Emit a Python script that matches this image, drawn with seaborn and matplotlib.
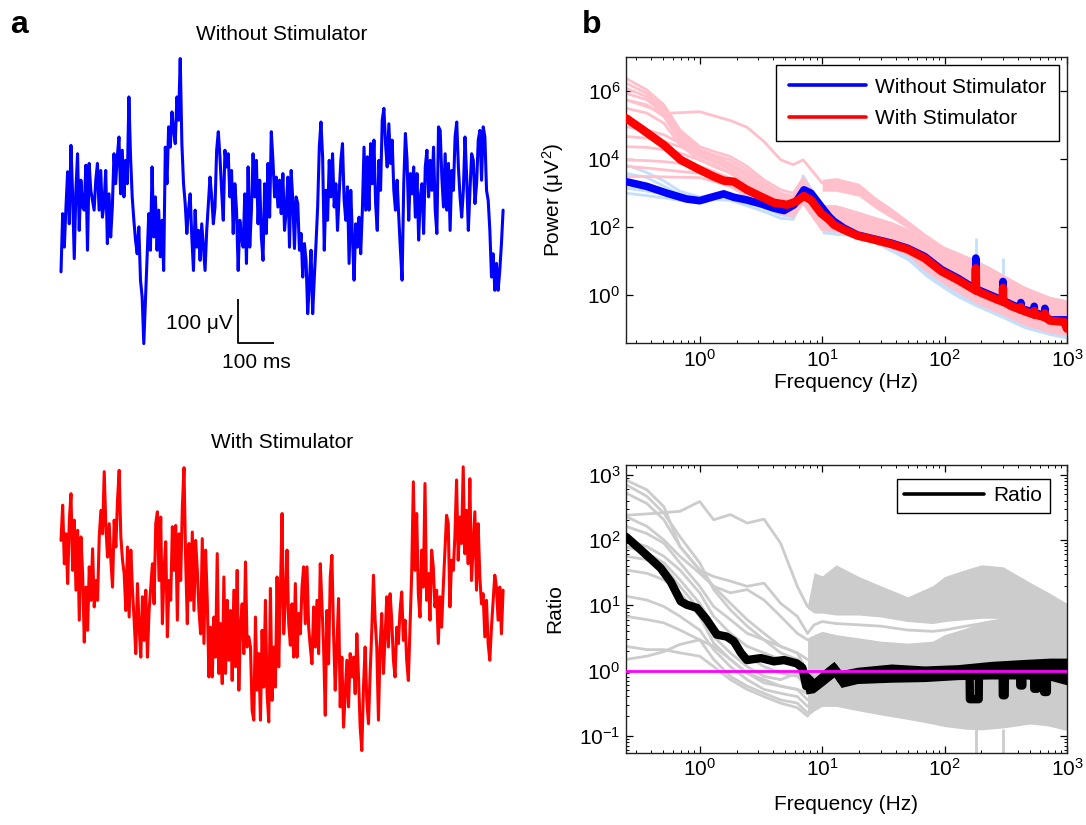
import numpy as np
import matplotlib
matplotlib.use("Agg")
import matplotlib.pyplot as plt
import seaborn as sns
from matplotlib.lines import Line2D
from matplotlib.ticker import FixedLocator, LogLocator, NullLocator, NullFormatter

# ---------------- panel a : raw traces (microvolts) ----------------
trace_without_uv = [
    -163, -31, -107, -16, 64, -54, 124, 14, -133, 22,
    105, -69, 45, -16, -23, 79, -114, 83, 22, -1,
    -23, 45, 83, -23, 67, -39, -8, 67, -99, 14,
    -84, -16, 105, 37, 98, 143, 14, 113, 7, 90,
    37, 234, 98, 7, -46, -91, -122, -61, -182, -220,
    -326, -228, -129, -31, -114, 75, -84, 7, -114, -23,
    -129, -46, -160, 120, 37, 166, 120, 200, 158, 128,
    234, 181, 321, 128, 37, -8, -76, -23, 14, -84,
    -160, -23, -107, -69, -137, -54, -107, -160, -69, -8,
    52, 7, -54, -16, 113, 155, 98, 22, -46, 113,
    75, 105, 7, 67, -76, 37, -23, -160, -46, -84,
    -107, 14, -144, 75, -107, -23, 105, 7, 90, -54,
    45, -84, -137, 37, -76, 83, -39, 155, 90, 7,
    52, -16, 45, -31, 60, -69,
    -23, 52, -107, 67, -1, -110, 7, -8, -114, -76,
    -175, -99, -137, -258, -190, -114, -258, -175, -99, -16,
    120, 177, 98, -114, 22, -46, 90, 7, 105, -16,
    37, -69, 14, 90, 128, -1, -46, 30, -144, 22,
    -84, -182, -54, -107, -39, -122, -23, 120, -23, 98,
    -23, 128, 37, 136, -8, -69, 90, 22, 181, 208,
    128, 75, 173, 83, 136, 22, -23, 45, -39, -114,
    -182, 37, 151, 90, -46, 60, 14, 75, -39, 60,
    -91, 7, 37, -76, 75, 113, 7, 90, 22, 120,
    -23, -76, 166, 158, 52, -16, 105, -23, 83, -69,
    67, 22, 143, 177, 75, 7, -39, 22, 143, 52,
    -69, 22, 105, 90, -8, 37, 136, 158, 45, 166,
    143, 22, -1, -69, -175, -122, -205, -144, -205, -160,
    -99, -23,
]
trace_with_uv = [
    158, 238, 105, 173, 60, 204, 264, 90, 204, 45,
    181, -23, 166, 83, -73, 52, -46, 98, 22, 139,
    7, 67, 22, 166, 226, 173, 314, 189, 120, 196,
    113, 52, 204, 143, 249, 317, 166, 113, 83, -1,
    143, -16, 136, 45, -23, -99, 60, -39, -107, 30,
    -69, 45, -107, -1, 52, 105, 14, 196, 223, 67,
    211, -31, 90, 155, -61, 67, 22, 189, 90, 192,
    -23, 173, 67, 234, 323, 113, -31, 151, 22, 177,
    -1, 158, 90, -1, -54, 162, -76, 136, 22, -152,
    -39, -152, -16, -107, 128, -144, -31, -167, 75, -144,
    22, -114, -1, -160, 45, -129, 90, -182, -39, 14,
    -99, 109, -84, -61, -84, -228, -250, -16, -182, -99,
    -250, -46, -175, 22, -190, -254, 49, -205, -84, -175,
    75, -129, 37, 219, -54,
    22, 136, -31, -80, 14, -107, 60, -107, -8, -54,
    52, 98, -31, 98, -39, -84, -122, 7, -84, 22,
    -99, 105, 14, -84, -239, -1, -122, 75, 124, -54,
    -182, -84, 26, -220, -107, -266, -190, -114, -220, -99,
    -152, -107, -190, -54, -152, -266, -319, -175, -84, -205,
    -258, -144, -46, 79, -23, -84, -250, -84, -8, -144,
    -61, 30, -84, 37, -23, -114, -152, -39, -76, -1,
    41, -69, -23, -114, -160, -39, 83, 291, 90, 219,
    37, -16, 136, 52, 287, 22, 83, -23, 136, 98,
    7, 45, -76, 30, -39, 52, 136, 215, 196, 7,
    113, 90, 166, 295, 113, 211, 151, 325, 128, 226,
    105, 298, 67, 143, 223, 45, 196, 75, 14, 37,
    -61, 22, -76, -114, -39, 22, 79, 52, -23, 52,
    -54, 45,
]
TRACE_DURATION_MS = 1229
SCALE_MS = 100
SCALE_UV = 100

# ---------------- panel b (top): power spectra, log10(uV^2) ----------------
freq_without = [0.25, 0.37, 0.54, 0.78, 1.0, 1.3, 1.57, 1.9, 2.43, 3.16,
                4.04, 4.88, 5.9, 7.1, 8.1, 9.8, 11.4, 12.5, 15.1, 19.4,
                26.7, 36.8, 49.8, 68.6, 94.5, 128, 166, 179, 180, 181,
                201, 272, 299, 300, 301, 354, 419, 420, 421, 453,
                539, 540, 541, 659, 660, 661, 725, 1000]
power_without_log10 = [3.33, 3.19, 2.99, 2.82, 2.77, 2.89, 2.97, 2.87, 2.79, 2.68,
                       2.55, 2.48, 2.65, 3.09, 2.99, 2.60, 2.30, 2.16, 1.96, 1.76,
                       1.64, 1.52, 1.37, 1.13, 0.74, 0.49, 0.24, 0.17, 1.08, 0.17,
                       0.10, -0.10, -0.17, 0.39, -0.17, -0.29, -0.40, -0.23, -0.40, -0.44,
                       -0.52, -0.34, -0.52, -0.62, -0.40, -0.62, -0.74, -0.74]
freq_with = [0.25, 0.33, 0.51, 0.70, 1.0, 1.3, 1.57, 1.9, 2.43, 3.16,
             4.04, 5.17, 6.1, 7.1, 8.1, 9.8, 11.4, 12.5, 15.1, 19.4,
             26.7, 36.8, 49.8, 68.6, 94.5, 128, 166, 179, 180, 181,
             201, 272, 299, 300, 301, 354, 419, 420, 421, 453,
             539, 540, 541, 659, 660, 661, 725, 950, 1000]
power_with_log10 = [5.20, 4.90, 4.41, 3.97, 3.68, 3.48, 3.36, 3.33, 3.09, 2.89,
                    2.71, 2.65, 2.74, 2.91, 2.79, 2.40, 2.21, 2.06, 1.91, 1.74,
                    1.62, 1.49, 1.34, 1.08, 0.69, 0.44, 0.20, 0.13, 0.78, 0.13,
                    0.05, -0.15, -0.20, 0.20, -0.20, -0.34, -0.44, -0.36, -0.44, -0.49,
                    -0.58, -0.48, -0.58, -0.66, -0.55, -0.66, -0.76, -0.80, -1.00]

freq_trials_low = [0.25, 0.37, 0.51, 0.69, 1.0, 1.3, 1.78, 2.44, 3.35, 4.6, 5.8, 7.0, 10]
with_trials_log10 = [
    [6.37, 6.03, 5.59, 4.85, 4.36, 4.22, 4.07, 3.78, 3.38, 3.09, 2.99, 3.43, 2.60],
    [6.23, 5.93, 5.49, 4.76, 4.27, 4.12, 3.97, 3.68, 3.29, 2.99, 2.89, 3.33, 2.50],
    [6.08, 5.83, 5.39, 4.66, 4.22, 4.07, 3.87, 3.58, 3.19, 2.94, 2.80, 3.24, 2.40],
    [5.93, 5.74, 5.34, 4.61, 4.12, 3.97, 3.78, 3.48, 3.09, 2.85, 2.75, 3.14, 2.31],
    [5.74, 5.59, 5.25, 4.51, 4.07, 3.92, 3.68, 3.38, 3.04, 2.80, 2.70, 3.04, 2.21],
    [5.49, 5.35, 5.05, 4.41, 3.97, 3.83, 3.58, 3.29, 2.94, 2.70, 2.60, 2.94, 2.16],
    [5.74, 5.54, 5.34, 5.36, 5.39, 5.27, 5.13, 4.93, 4.51, 3.97, 3.83, 3.97, 3.29],
    [4.95, 4.85, 4.71, 4.46, 4.27, 4.07, 3.83, 3.48, 3.19, 2.89, 2.80, 3.19, 2.31],
    [4.66, 4.61, 4.51, 4.36, 4.17, 3.97, 3.68, 3.34, 3.04, 2.75, 2.65, 3.09, 2.26],
    [4.36, 4.34, 4.27, 4.17, 3.97, 3.78, 3.58, 3.24, 2.94, 2.70, 2.60, 2.99, 2.21],
    [3.97, 3.95, 3.92, 3.87, 3.78, 3.63, 3.43, 3.14, 2.85, 2.60, 2.50, 2.89, 2.11],
    [3.78, 3.73, 3.68, 3.63, 3.58, 3.48, 3.29, 3.04, 2.75, 2.50, 2.40, 2.80, 2.01],
    [3.48, 3.48, 3.47, 3.46, 3.45, 3.34, 3.19, 2.89, 2.65, 2.40, 2.31, 2.70, 1.91],
]
without_trials_log10 = [
    [3.82, 3.60, 3.35, 3.05, 2.88, 2.95, 2.92, 2.80, 2.65, 2.50, 2.45, 3.50, 2.60],
    [3.58, 3.45, 3.20, 2.95, 2.80, 2.90, 2.88, 2.75, 2.60, 2.45, 2.40, 3.10, 2.45],
    [3.14, 3.05, 2.98, 2.85, 2.75, 2.85, 2.82, 2.70, 2.55, 2.35, 2.30, 2.90, 2.35],
    [2.99, 2.92, 2.85, 2.78, 2.70, 2.80, 2.78, 2.62, 2.45, 2.25, 2.22, 2.80, 2.25],
]
# high-frequency trial envelopes
freq_band = [10, 13, 20, 27, 37, 50, 69, 100, 130, 180, 240, 300, 450, 725, 1000]
with_outlier_top_log10 = [3.40, 3.45, 3.28, 2.89, 2.55, 2.20, 1.81, 1.42, 1.25, 1.03, 0.80, 0.60, 0.25, -0.05, -0.15]
with_outlier_low_log10 = [3.05, 3.05, 2.90, 2.55, 2.25, 1.95, 1.70, 1.42, 1.25, 1.03, 0.80, 0.60, 0.25, -0.05, -0.15]
with_band_top_log10 = [2.65, 2.65, 2.45, 2.30, 2.15, 1.95, 1.70, 1.42, 1.25, 1.03, 0.80, 0.60, 0.25, -0.05, -0.15]
with_band_low_log10 = [1.90, 1.85, 1.80, 1.60, 1.35, 1.15, 0.70, 0.30, 0.05, -0.25, -0.45, -0.60, -0.90, -1.12, -1.22]
without_band_low_log10 = [1.80, 1.75, 1.70, 1.50, 1.25, 1.00, 0.55, 0.15, -0.10, -0.35, -0.55, -0.70, -1.00, -1.20, -1.30]
line_noise_freq = [180, 300]
line_noise_without_top_log10 = [1.68, 1.08]
line_noise_without_base_log10 = [0.20, -0.15]

# ---------------- panel b (bottom): ratio, log10 ----------------
freq_ratio = [0.25, 0.33, 0.48, 0.58, 0.70, 0.78, 0.95, 1.14, 1.38, 1.66,
              1.9, 2.17, 2.43, 3.16, 4.04, 4.88, 6.2, 6.9, 7.4, 8.6,
              10.4, 12.5, 14.3, 19.4, 36.8, 68.6, 128, 160, 161, 190,
              191, 240, 298, 299, 310, 311, 414, 415, 432, 433,
              539, 540, 570, 571, 649, 650, 685, 686, 725, 1000]
ratio_log10 = [2.05, 1.85, 1.57, 1.36, 1.06, 1.01, 0.96, 0.78, 0.55, 0.52,
               0.45, 0.27, 0.16, 0.19, 0.14, 0.16, 0.11, 0.04, -0.24, -0.22,
               -0.09, 0.04, -0.14, -0.09, -0.04, -0.04, -0.01, 0.0, -0.44, -0.44,
               0.0, 0.01, 0.02, -0.38, -0.38, 0.02, 0.03, -0.23, -0.23, 0.03,
               0.03, -0.28, -0.28, 0.04, 0.04, -0.33, -0.33, 0.05, 0.05, 0.06]
freq_ratio_band = [6.9, 7.4, 8.6, 10.4, 12.5, 14.3, 19.4, 36.8, 68.6, 128, 240, 450, 725, 1000]
ratio_band_top_log10 = [0.14, 0.0, -0.12, 0.02, 0.14, 0.0, 0.05, 0.10, 0.07, 0.09, 0.14, 0.17, 0.19, 0.19]
ratio_band_low_log10 = [-0.05, -0.36, -0.34, -0.22, -0.10, -0.26, -0.20, -0.18, -0.17, -0.14, -0.13, -0.13, -0.15, -0.22]

freq_ratio_trials = [0.25, 0.37, 0.51, 0.69, 1.0, 1.3, 1.78, 2.44, 3.35, 4.58, 6.27, 7.6]
ratio_trials_log10 = [
    [2.92, 2.77, 2.51, 1.90, 1.54, 1.29, 1.03, 0.78, 0.57, 0.37, 0.27, -0.04],
    [2.85, 2.67, 2.41, 2.05, 1.65, 1.24, 0.93, 0.68, 0.47, 0.27, 0.17, -0.24],
    [2.38, 2.40, 2.42, 2.44, 2.59, 2.31, 2.39, 2.26, 2.32, 1.95, 1.29, 0.98],
    [2.72, 2.56, 2.31, 1.90, 1.54, 1.44, 1.37, 1.29, 1.34, 1.03, 0.83, 0.57],
    [2.36, 2.21, 2.00, 1.75, 1.49, 1.29, 1.19, 1.24, 1.08, 0.83, 0.57, 0.47],
    [2.21, 2.10, 1.95, 1.65, 1.29, 0.98, 0.78, 0.57, 0.47, 0.37, 0.27, 0.17],
    [2.00, 1.90, 1.75, 1.54, 1.19, 0.83, 0.57, 0.37, 0.27, 0.17, 0.06, -0.04],
    [1.90, 1.80, 1.65, 1.39, 1.03, 0.68, 0.42, 0.22, 0.06, -0.04, -0.09, -0.24],
    [1.75, 1.70, 1.59, 1.29, 0.93, 0.52, 0.27, 0.06, -0.09, -0.14, -0.04, -0.35],
    [1.54, 1.49, 1.39, 1.19, 0.83, 0.42, 0.17, -0.04, -0.19, -0.24, -0.29, -0.45],
    [1.14, 1.08, 0.98, 0.83, 0.62, 0.32, 0.06, -0.14, -0.29, -0.35, -0.40, -0.55],
    [0.83, 0.78, 0.73, 0.62, 0.47, 0.17, -0.09, -0.24, -0.35, -0.45, -0.50, -0.65],
    [0.37, 0.32, 0.32, 0.27, 0.22, 0.06, -0.14, -0.29, -0.40, -0.50, -0.57, -0.70],
    [0.17, 0.22, 0.29, 0.40, 0.47, 0.37, 0.17, -0.04, -0.14, -0.24, -0.29, -0.35],
]
freq_ratio_gray = [7.6, 8.6, 10, 13, 20, 30, 50, 80, 100, 150, 200, 300, 500, 700, 1000]
gray_low_log10 = [-0.70, -0.62, -0.55, -0.55, -0.62, -0.68, -0.75, -0.82, -0.86, -0.90, -0.91, -0.88, -0.82, -0.85, -0.92]
gray_mid_top_log10 = [0.50, 0.55, 0.60, 0.55, 0.50, 0.45, 0.42, 0.45, 0.55, 0.65, 0.75, 0.80, 0.85, 0.85, 0.85]
gray_up_low_log10 = [0.95, 0.88, 0.88, 0.85, 0.85, 0.82, 0.75, 0.72, 0.75, 0.78, 0.80, 0.80, 0.85, 0.85, 0.85]
gray_up_top_log10 = [1.00, 1.50, 1.45, 1.62, 1.44, 1.30, 1.13, 1.30, 1.44, 1.55, 1.62, 1.59, 1.35, 1.20, 1.03]
gray_gap_line_log10 = [0.57, 0.70, 0.75, 0.72, 0.70, 0.68, 0.62, 0.60, 0.62, 0.68, 0.72, 0.78, 0.85, 0.85, 0.85]
ratio_noise_low_log10 = [-0.9, -0.9]

# ---------------- style ----------------
sns.set_theme(style="white")
plt.rcParams.update({
    "font.size": 15,
    "text.color": "black",
    "axes.labelcolor": "black",
    "xtick.color": "black",
    "ytick.color": "black",
    "axes.edgecolor": "#222222",
    "mathtext.default": "regular",
    "axes.unicode_minus": False,
})
plt.rcParams["font.family"] = ["Liberation Sans", "DejaVu Sans"]

BLUE, RED, BLACK = "#0000ff", "#ff0000", "#000000"
PINK, LIGHTBLUE, GRAY, MAGENTA = "#ffc0cb", "#c4dffa", "#cccccc", "#ff00ff"

W, H = 1086, 825
fig = plt.figure(figsize=(W / 100, H / 100), dpi=100)


def px_axes(x0, y0, x1, y1):
    return fig.add_axes([x0 / W, 1 - y1 / H, (x1 - x0) / W, (y1 - y0) / H])


def lin(a):
    return 10.0 ** np.asarray(a, dtype=float)


# ---------------- panel a ----------------
axA1 = px_axes(40, 40, 520, 380)
tA = np.linspace(0, TRACE_DURATION_MS, len(trace_without_uv))
sns.lineplot(x=tA, y=trace_without_uv, ax=axA1, color=BLUE, linewidth=2.2,
             estimator=None, sort=False, legend=False)
axA1.set_xlim(-58.4, 1276)
axA1.set_ylim(-408.6, 363.2)
axA1.axis("off")
bar_t0, bar_v0 = 492, -325
axA1.plot([bar_t0, bar_t0, bar_t0 + SCALE_MS], [bar_v0 + SCALE_UV, bar_v0, bar_v0],
          color="black", lw=1.3, solid_capstyle="butt")
axA1.text(bar_t0 - 14, bar_v0 + 0.44 * SCALE_UV, "100 \u03bcV", ha="right", va="center", fontsize=15)
axA1.text(bar_t0 + 0.5 * SCALE_MS, bar_v0 - 43, "100 ms", ha="center", va="center", fontsize=15)

axA2 = px_axes(40, 420, 520, 790)
tB = np.linspace(0, TRACE_DURATION_MS, len(trace_with_uv))
sns.lineplot(x=tB, y=trace_with_uv, ax=axA2, color=RED, linewidth=2.2,
             estimator=None, sort=False, legend=False)
axA2.set_xlim(-58.4, 1276)
axA2.set_ylim(-408.6, 431.3)
axA2.axis("off")

fig.text(282 / W, 1 - 35 / H, "Without Stimulator", ha="center", va="center", fontsize=15)
fig.text(282 / W, 1 - 443 / H, "With Stimulator", ha="center", va="center", fontsize=15)
fig.text(10 / W, 1 - 33 / H, "a", ha="left", va="baseline", fontsize=23, fontweight="bold")
fig.text(582 / W, 1 - 33 / H, "b", ha="left", va="baseline", fontsize=23, fontweight="bold")


def style_log_axes(ax, yticks, yminor):
    ax.set_xscale("log")
    ax.set_yscale("log")
    ax.xaxis.set_major_locator(FixedLocator([1, 10, 100, 1000]))
    ax.xaxis.set_minor_locator(LogLocator(base=10, subs=np.arange(2, 10)))
    ax.xaxis.set_minor_formatter(NullFormatter())
    ax.yaxis.set_major_locator(FixedLocator(yticks))
    if yminor:
        ax.yaxis.set_minor_locator(LogLocator(base=10, subs=np.arange(2, 10)))
    else:
        ax.yaxis.set_minor_locator(NullLocator())
    ax.yaxis.set_minor_formatter(NullFormatter())
    ax.tick_params(which="both", direction="in", top=True, right=True,
                   bottom=True, left=True, labelsize=15)
    ax.tick_params(which="major", length=5, width=0.9, pad=4)
    ax.tick_params(which="minor", length=2.5, width=0.7)
    for s in ax.spines.values():
        s.set_linewidth(1.0)
        s.set_color("#222222")


# ---------------- panel b top ----------------
axP = px_axes(626, 57, 1067, 343)
style_log_axes(axP, [1, 1e2, 1e4, 1e6], False)
axP.fill_between(freq_band, lin(without_band_low_log10), lin(with_band_top_log10),
                 color=LIGHTBLUE, lw=0, zorder=1)
for tr in without_trials_log10:
    sns.lineplot(x=freq_trials_low, y=lin(tr), ax=axP, color=LIGHTBLUE, linewidth=2.0,
                 estimator=None, sort=False, legend=False, zorder=1)
axP.vlines(line_noise_freq, lin(line_noise_without_base_log10), lin(line_noise_without_top_log10),
           color=LIGHTBLUE, lw=2.0, zorder=1)
axP.fill_between(freq_band, lin(with_band_low_log10), lin(with_band_top_log10),
                 color=PINK, lw=0, zorder=2)
axP.fill_between(freq_band, lin(with_outlier_low_log10), lin(with_outlier_top_log10),
                 color=PINK, lw=0, zorder=2)
for tr in with_trials_log10:
    sns.lineplot(x=freq_trials_low, y=lin(tr), ax=axP, color=PINK, linewidth=2.0,
                 estimator=None, sort=False, legend=False, zorder=2)
sns.lineplot(x=freq_without, y=lin(power_without_log10), ax=axP, color=BLUE, linewidth=5.5,
             estimator=None, sort=False, legend=False, zorder=3)
sns.lineplot(x=freq_with, y=lin(power_with_log10), ax=axP, color=RED, linewidth=6.0,
             estimator=None, sort=False, legend=False, zorder=4)
axP.set_xlim(0.25, 1000)
axP.set_ylim(10 ** -1.42, 1e7)
axP.set_xlabel("Frequency (Hz)", fontsize=15)
axP.set_ylabel("Power (\u03bcV$^2$)", fontsize=15)
axP.xaxis.label.set_va("center")
axP.xaxis.set_label_coords(0.5, (343 - 383) / 286)
axP.yaxis.set_label_coords(-0.135, 0.5)
legP = axP.legend([Line2D([], [], color=BLUE, lw=2.6), Line2D([], [], color=RED, lw=2.6)],
                  ["Without Stimulator", "With Stimulator"],
                  loc="upper right", bbox_to_anchor=(0.982, 0.972), frameon=True,
                  fancybox=False, framealpha=1, edgecolor="black", fontsize=15,
                  handlelength=3.7, handletextpad=0.45, borderpad=0.6,
                  labelspacing=0.6, borderaxespad=0)
legP.get_frame().set_linewidth(1.0)
legP.set_zorder(10)

# ---------------- panel b bottom ----------------
axR = px_axes(626, 465, 1067, 752.7)
style_log_axes(axR, [0.1, 1, 10, 100, 1000], True)
axR.fill_between(freq_ratio_gray, lin(gray_low_log10), lin(gray_mid_top_log10),
                 color=GRAY, lw=0, zorder=1)
axR.fill_between(freq_ratio_gray, lin(gray_up_low_log10), lin(gray_up_top_log10),
                 color=GRAY, lw=0, zorder=1)
sns.lineplot(x=freq_ratio_gray, y=lin(gray_gap_line_log10), ax=axR, color=GRAY, linewidth=2.0,
             estimator=None, sort=False, legend=False, zorder=1)
axR.vlines(line_noise_freq, 10 ** -1.3, lin(ratio_noise_low_log10), color=GRAY, lw=2.0, zorder=1)
for tr in ratio_trials_log10:
    sns.lineplot(x=freq_ratio_trials, y=lin(tr), ax=axR, color=GRAY, linewidth=2.0,
                 estimator=None, sort=False, legend=False, zorder=1)
axR.fill_between(freq_ratio_band, lin(ratio_band_low_log10), lin(ratio_band_top_log10),
                 color=BLACK, lw=0, zorder=3)
sns.lineplot(x=freq_ratio, y=lin(ratio_log10), ax=axR, color=BLACK, linewidth=6.0,
             estimator=None, sort=False, legend=False, zorder=3)
axR.axhline(1.0, color=MAGENTA, lw=2.0, zorder=4)
axR.set_xlim(0.25, 1000)
axR.set_ylim(10 ** -1.26, 10 ** 3.15)
axR.set_xlabel("Frequency (Hz)", fontsize=15)
axR.set_ylabel("Ratio", fontsize=15)
axR.xaxis.label.set_va("center")
axR.xaxis.set_label_coords(0.5, (752.7 - 805) / 287.7)
axR.yaxis.set_label_coords(-0.14, 0.5)
legR = axR.legend([Line2D([], [], color=BLACK, lw=2.6)], ["Ratio"],
                  loc="upper right", bbox_to_anchor=(0.961, 0.951), frameon=True,
                  fancybox=False, framealpha=1, edgecolor="black", fontsize=15,
                  handlelength=3.85, handletextpad=0.45, borderpad=0.35,
                  borderaxespad=0)
legR.get_frame().set_linewidth(1.0)
legR.set_zorder(10)

fig.savefig("out.png", dpi=100)
